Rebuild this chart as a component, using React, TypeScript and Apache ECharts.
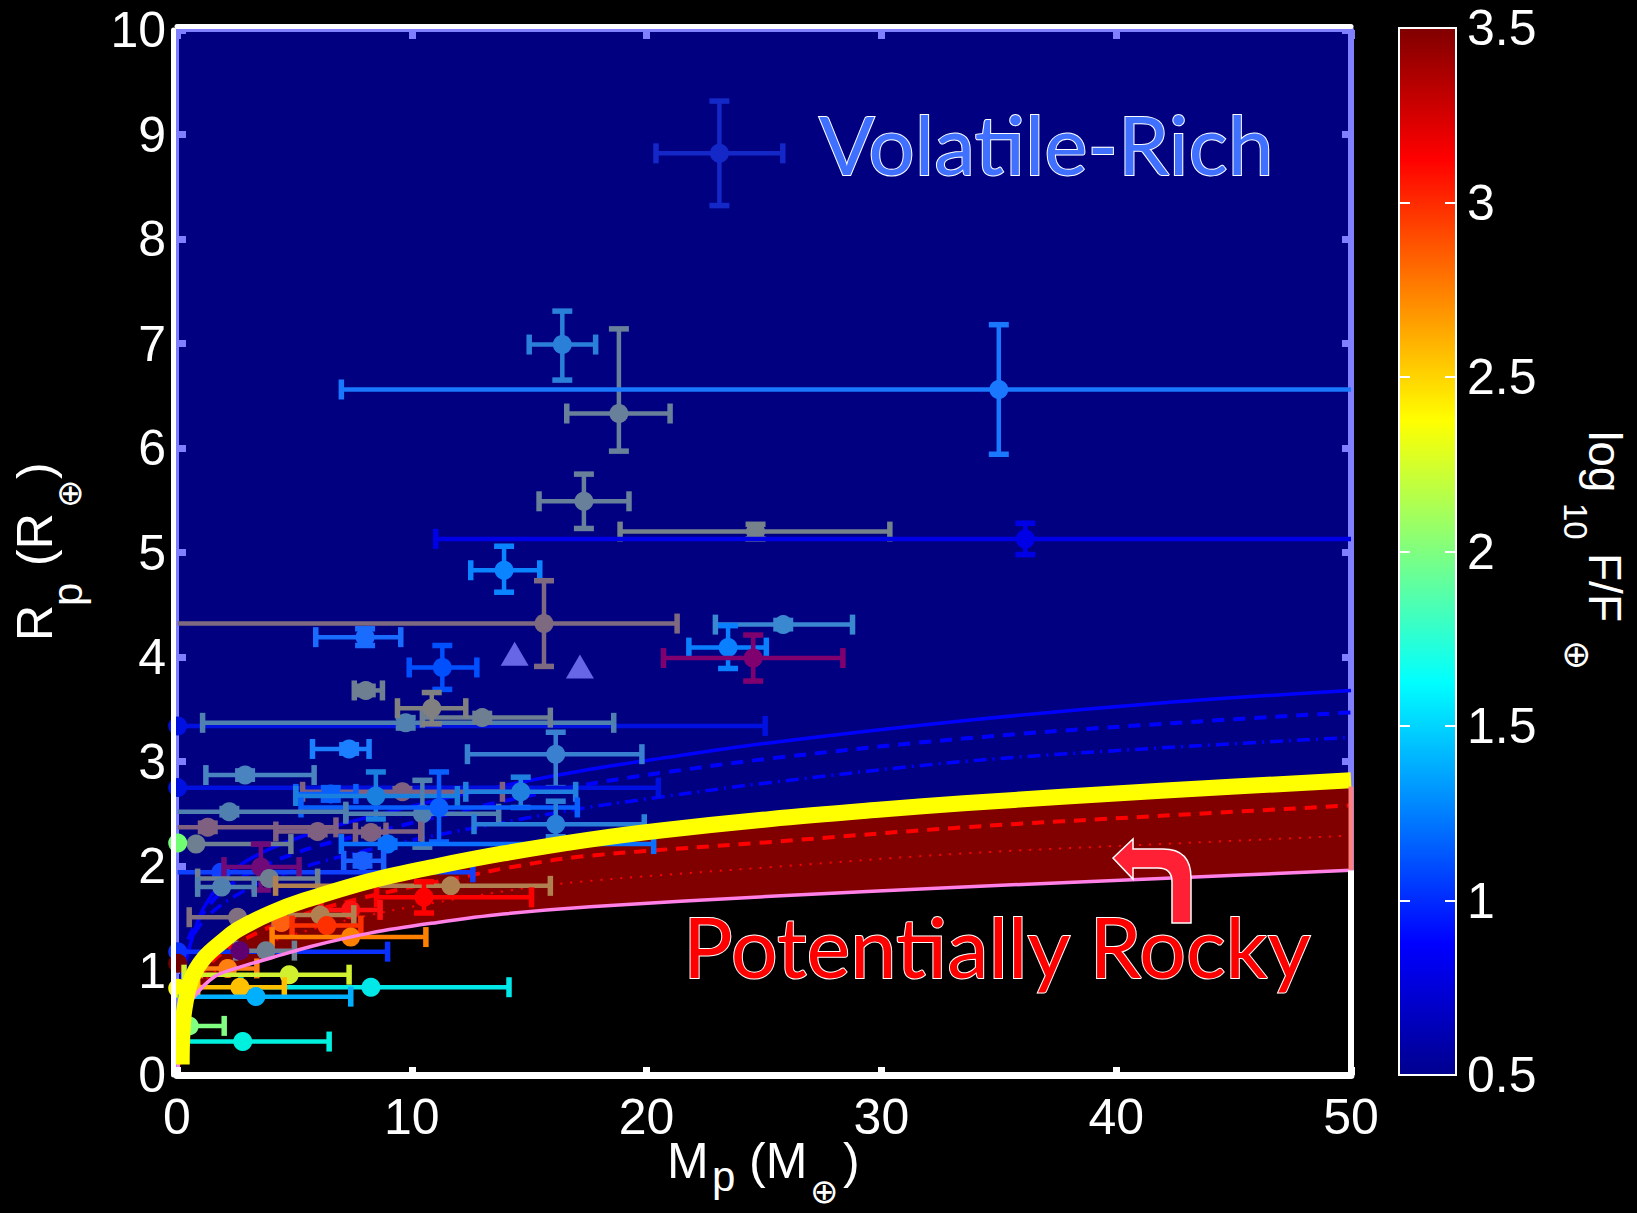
import React, { useEffect, useRef } from "react";
import * as echarts from "echarts";

// ---------- axes ----------
const massMin = 0;
const massMax = 50;
const massStep = 10;
const radiusMin = 0;
const radiusMax = 10;
const radiusStep = 1;
const fluxMin = 0.5;
const fluxMax = 3.5;
const fluxStep = 0.5;

// ---------- planets: [M, M_lo, M_hi, R, R_lo, R_hi] ----------
const planets: number[][] = [
  [23.1, 20.4, 25.8, 8.82, 8.32, 9.32],
  [16.41, 15.0, 17.83, 6.99, 6.65, 7.31],
  [18.82, 16.6, 21.0, 6.33, 5.97, 7.14],
  [35.0, 7.0, 50.0, 6.56, 5.94, 7.18],
  [17.33, 15.42, 19.25, 5.49, 5.23, 5.75],
  [24.64, 18.87, 30.36, 5.2, 5.13, 5.27],
  [36.13, 11.02, 50.0, 5.13, 4.98, 5.28],
  [13.93, 12.51, 15.45, 4.83, 4.62, 5.06],
  [15.63, 0.03, 21.3, 4.32, 3.91, 4.73],
  [8.01, 5.91, 9.53, 4.19, 4.11, 4.27],
  [11.3, 9.89, 12.77, 3.9, 3.69, 4.11],
  [25.82, 22.93, 28.77, 4.31, 4.27, 4.35],
  [23.47, 21.8, 25.1, 4.09, 3.89, 4.3],
  [24.54, 20.72, 28.36, 3.99, 3.77, 4.21],
  [8.04, 7.55, 8.75, 3.68, 3.64, 3.72],
  [0.03, 0.03, 25.05, 3.34, 3.34, 3.34],
  [9.74, 1.09, 18.6, 3.37, 3.32, 3.42],
  [13.0, 10.45, 15.9, 3.42, 3.38, 3.46],
  [10.85, 9.39, 12.3, 3.51, 3.36, 3.66],
  [7.33, 5.77, 8.18, 3.12, 3.08, 3.16],
  [16.13, 12.37, 19.8, 3.07, 2.75, 3.28],
  [2.9, 1.23, 5.84, 2.87, 2.83, 2.91],
  [0.03, 0.03, 20.5, 2.75, 2.75, 2.75],
  [9.6, 5.35, 13.86, 2.71, 2.68, 2.74],
  [6.55, 5.06, 7.62, 2.69, 2.63, 2.75],
  [8.47, 5.06, 11.94, 2.67, 2.45, 2.9],
  [14.64, 12.3, 16.98, 2.71, 2.56, 2.85],
  [10.45, 7.19, 13.7, 2.5, 2.18, 2.82],
  [11.16, 5.28, 17.05, 2.56, 2.23, 2.9],
  [2.23, 0.03, 7.19, 2.52, 2.49, 2.55],
  [16.13, 12.65, 19.9, 2.4, 2.28, 2.62],
  [1.31, 0.03, 6.77, 2.37, 2.33, 2.41],
  [5.99, 4.21, 10.38, 2.33, 2.3, 2.36],
  [8.26, 7.6, 8.9, 2.32, 2.29, 2.35],
  [8.97, 7.0, 20.3, 2.21, 2.18, 2.24],
  [0.81, 0.03, 4.85, 2.21, 2.21, 2.21],
  [0.03, 0.03, 0.03, 2.22, 2.22, 2.22],
  [7.9, 7.1, 8.8, 2.05, 2.0, 2.1],
  [1.87, 0.03, 12.6, 1.94, 1.94, 1.94],
  [3.57, 2.0, 5.2, 1.99, 1.77, 2.21],
  [3.93, 0.88, 5.99, 1.88, 1.88, 1.88],
  [1.9, 0.88, 3.29, 1.8, 1.8, 1.8],
  [11.66, 4.2, 15.9, 1.81, 1.81, 1.81],
  [10.52, 8.5, 15.1, 1.7, 1.55, 1.85],
  [7.4, 6.13, 8.65, 1.58, 1.58, 1.58],
  [6.1, 4.85, 7.53, 1.53, 1.53, 1.53],
  [2.58, 0.52, 4.13, 1.51, 1.51, 1.51],
  [4.45, 4.45, 4.45, 1.46, 1.46, 1.46],
  [6.38, 4.9, 7.83, 1.43, 1.43, 1.43],
  [7.4, 4.05, 10.6, 1.32, 1.32, 1.32],
  [0.03, 0.03, 8.97, 1.18, 1.18, 1.18],
  [3.79, 2.5, 5.0, 1.19, 1.19, 1.19],
  [2.68, 2.68, 2.68, 1.19, 1.19, 1.19],
  [0.03, 0.03, 0.03, 1.07, 1.07, 1.07],
  [2.16, 1.0, 3.4, 1.02, 1.02, 1.02],
  [4.78, 0.3, 7.33, 0.96, 0.96, 0.96],
  [8.26, 2.72, 14.14, 0.84, 0.84, 0.84],
  [2.68, 0.88, 4.57, 0.84, 0.84, 0.84],
  [0.03, 0.03, 0.03, 0.83, 0.83, 0.83],
  [3.36, 0.03, 7.4, 0.75, 0.75, 0.75],
  [0.52, 0.03, 2.01, 0.47, 0.47, 0.47],
  [2.8, 0.03, 6.48, 0.32, 0.32, 0.32],
];

// colour of each planet (incident flux)
const planetColors: string[] = [
  "#1428c8", "#2a80d8", "#68809a", "#1a78ff", "#68809a", "#75828c", "#0000e6", "#0a84ff",
  "#7e6a80", "#1a6cff", "#0050ff", "#3a88d0", "#0a80ff", "#800070", "#6e7f92", "#0010e0",
  "#5080b0", "#6e7f92", "#808080", "#1a80ff", "#3a80d0", "#4a84c0", "#0010e0", "#80607f",
  "#0a60ff", "#1a80e0", "#2080e0", "#5080b0", "#0a60ff", "#5080b0", "#2a80d8", "#806080",
  "#806080", "#806080", "#0a70ff", "#6e7f92", "#70ff70", "#1a60ff", "#1040ff", "#700a78",
  "#6e7f92", "#5080b0", "#b08050", "#ff0000", "#ff1010", "#b08050", "#806f80", "#ff6010",
  "#ff3000", "#ff8000", "#0a30ff", "#6e7f92", "#600070", "#700000", "#ff8010", "#d0f030",
  "#00e8e8", "#ffc000", "#ffff00", "#00b0ff", "#80ff80", "#00f0e0",
];

const lavenderTriangles = [
  [14.38, 4.03],
  [17.16, 3.91],
];
const solarSystemTriangles = [
  [0.1, 0.52],
  [0.06, 0.37],
];

// ---------- composition curves [M, R] ----------
const curveSilicate = [
  [0.2, 0.1], [0.22, 0.35], [0.31, 0.62], [0.6, 0.91], [1.16, 1.12], [2.0, 1.29], [2.58, 1.39],
  [4.0, 1.55], [5.42, 1.67], [8.26, 1.86], [11.1, 2.0], [13.9, 2.12], [17.5, 2.25], [20.6, 2.34],
  [25.3, 2.45], [30, 2.54], [33.5, 2.6], [41.9, 2.72], [50, 2.82],
];
const curveIron = [
  [0.05, 0.07], [0.15, 0.35], [0.31, 0.56], [0.7, 0.74], [1.59, 0.94], [2.5, 1.02], [4, 1.12],
  [5.7, 1.23], [8.26, 1.36], [11.1, 1.46], [13.9, 1.54], [17.6, 1.61], [25.3, 1.71], [33.5, 1.8],
  [41.9, 1.88], [50, 1.96],
];
const curveRedDashed = [
  [0.3, 0.55], [1, 0.95], [2, 1.18], [4, 1.42], [6, 1.58], [8, 1.7], [10, 1.8], [12.5, 1.91],
  [14, 1.98], [17.2, 2.09], [25.3, 2.23], [33.5, 2.37], [41.9, 2.48], [50, 2.58],
];
const curveRedDotted = [
  [0.3, 0.5], [1, 0.85], [2, 1.05], [4, 1.27], [6, 1.41], [8, 1.52], [10, 1.61], [14, 1.76],
  [17.2, 1.85], [25.3, 1.99], [33.5, 2.12], [41.9, 2.21], [50, 2.29],
];
const curveBlueSolid = [
  [0.15, 0.85], [0.3, 1.0], [0.45, 1.16], [1.16, 1.61], [2.58, 1.99], [5.28, 2.28], [9.25, 2.53],
  [13.5, 2.75], [17.2, 2.91], [20.6, 3.03], [25.3, 3.18], [33.5, 3.39], [41.9, 3.56], [50, 3.68],
];
const curveBlueDashed = [
  [0.2, 0.9], [0.3, 1.13], [0.74, 1.42], [2.16, 1.8], [5.0, 2.12], [9.25, 2.37], [13.5, 2.6],
  [17.2, 2.77], [20.6, 2.89], [25.3, 3.03], [33.5, 3.22], [41.9, 3.36], [50, 3.47],
];
const curveBlueDashDot = [
  [0.2, 0.85], [0.74, 1.35], [2.16, 1.67], [5.0, 1.96], [9.25, 2.21], [13.5, 2.4], [17.2, 2.55],
  [20.6, 2.66], [25.3, 2.8], [33.5, 3.0], [41.9, 3.13], [50, 3.23],
];

const ARROW_PATH =
  "M0 0 L20 -19 L20 -9 L50 -9 Q78 -9 78 20 L78 65 L59 65 L59 24 Q59 10 45 10 L20 10 L20 21 Z";

const SANS = "'Liberation Sans', Arial, Helvetica, sans-serif";
const LAVENDER = "#8080ff";

let arrowRegistered = false;

export default function App() {
  const ref = useRef<HTMLDivElement>(null);

  useEffect(() => {
    if (!ref.current) return;
    if (!arrowRegistered) {
      echarts.graphic.registerShape("rockyArrow", echarts.graphic.extendPath(ARROW_PATH, {}) as any);
      arrowRegistered = true;
    }
    const chart = echarts.init(ref.current, null, { renderer: "svg" });

    const lastIron = curveIron[curveIron.length - 1];
    const lastSil = curveSilicate[curveSilicate.length - 1];

    const curve = (data: number[][], color: string, width: number, type: any, z: number) => ({
      type: "line",
      xAxisIndex: 0,
      yAxisIndex: 0,
      data,
      showSymbol: false,
      smooth: 0.35,
      lineStyle: { color, width, type, cap: "butt", join: "round" },
      z,
      silent: true,
    });

    const text = (t: string, x: number, y: number, size: number, extra: any = {}) => ({
      type: "text",
      x,
      y,
      rotation: extra.rotation || 0,
      z: 100,
      style: {
        text: t,
        fill: extra.fill || "#fff",
        fontSize: size,
        fontFamily: extra.family || SANS,
        align: "left",
        verticalAlign: "middle",
        textAlign: "left",
        textVerticalAlign: "middle",
        stroke: extra.stroke,
        lineWidth: extra.lineWidth,
      },
    });

    const plainAxis = {
      type: "value",
      axisLabel: { show: false },
      splitLine: { show: false },
    };

    const option: any = {
      animation: false,
      backgroundColor: "#000",
      grid: [
        {
          left: 177,
          top: 30,
          width: 1174,
          height: 1045,
          show: true,
          backgroundColor: "#000080",
          borderColor: LAVENDER,
          borderWidth: 4,
        },
        {
          left: 1399,
          top: 28,
          width: 57,
          height: 1047,
          show: true,
          backgroundColor: "transparent",
          borderColor: "#fff",
          borderWidth: 2,
          z: 5,
        },
      ],
      xAxis: [
        {
          gridIndex: 0,
          type: "value",
          position: "bottom",
          min: massMin,
          max: massMax,
          interval: massStep,
          z: 10,
          axisLine: { show: true, onZero: false, lineStyle: { color: "#fff", width: 7 } },
          axisTick: { show: true, inside: true, length: 8, lineStyle: { color: "#fff", width: 7 } },
          axisLabel: { color: "#fff", fontSize: 50, fontFamily: SANS, margin: 17 },
          splitLine: { show: false },
        },
        {
          ...plainAxis,
          gridIndex: 0,
          position: "top",
          offset: 4,
          min: massMin,
          max: massMax,
          interval: massStep,
          z: 10,
          axisLine: { show: true, onZero: false, lineStyle: { color: "#fff", width: 5 } },
          axisTick: { show: false },
        },
        {
          ...plainAxis,
          gridIndex: 0,
          position: "top",
          min: massMin,
          max: massMax,
          interval: massStep,
          axisLine: { show: false, onZero: false },
          axisTick: { show: true, inside: true, length: 9, lineStyle: { color: LAVENDER, width: 7 } },
        },
        {
          gridIndex: 1,
          type: "value",
          min: 0,
          max: 1,
          show: false,
        },
      ],
      yAxis: [
        {
          gridIndex: 0,
          type: "value",
          position: "left",
          offset: 4,
          min: radiusMin,
          max: radiusMax,
          interval: radiusStep,
          z: 10,
          axisLine: { show: true, onZero: false, lineStyle: { color: "#fff", width: 5 } },
          axisTick: { show: false },
          axisLabel: { color: "#fff", fontSize: 50, fontFamily: SANS, margin: 7 },
          splitLine: { show: false },
        },
        {
          ...plainAxis,
          gridIndex: 0,
          position: "right",
          min: radiusMin,
          max: radiusMax,
          interval: radiusStep,
          axisLine: { show: true, onZero: false, lineStyle: { color: LAVENDER, width: 6 } },
          axisTick: { show: true, inside: true, length: 9, lineStyle: { color: LAVENDER, width: 7 } },
        },
        {
          ...plainAxis,
          gridIndex: 0,
          position: "left",
          min: radiusMin,
          max: radiusMax,
          interval: radiusStep,
          axisLine: { show: false, onZero: false },
          axisTick: { show: true, inside: true, length: 9, lineStyle: { color: LAVENDER, width: 7 } },
        },
        {
          gridIndex: 1,
          type: "value",
          position: "right",
          min: fluxMin,
          max: fluxMax,
          interval: fluxStep,
          z: 6,
          axisLine: { show: false, onZero: false },
          axisTick: { show: true, inside: true, length: 11, lineStyle: { color: "#fff", width: 2 } },
          axisLabel: {
            color: "#fff",
            fontSize: 50,
            fontFamily: SANS,
            margin: 11,
            showMinLabel: true,
            showMaxLabel: true,
          },
          splitLine: { show: false },
        },
        {
          ...plainAxis,
          gridIndex: 1,
          position: "left",
          min: fluxMin,
          max: fluxMax,
          interval: fluxStep,
          z: 6,
          axisLine: { show: false, onZero: false },
          axisTick: { show: true, inside: true, length: 11, lineStyle: { color: "#fff", width: 2 } },
        },
      ],
      series: [
        // colour bar fill
        {
          type: "custom",
          xAxisIndex: 3,
          yAxisIndex: 3,
          data: [[0, fluxMin, 1, fluxMax]],
          silent: true,
          z: 1,
          renderItem: (_p: any, api: any) => {
            const a = api.coord([api.value(0), api.value(3)]);
            const b = api.coord([api.value(2), api.value(1)]);
            return {
              type: "rect",
              shape: { x: a[0], y: a[1], width: b[0] - a[0], height: b[1] - a[1] },
              style: {
                fill: new echarts.graphic.LinearGradient(0, 1, 0, 0, [
                  { offset: 0, color: "#00008f" },
                  { offset: 0.125, color: "#0000ff" },
                  { offset: 0.375, color: "#00ffff" },
                  { offset: 0.625, color: "#ffff00" },
                  { offset: 0.875, color: "#ff0000" },
                  { offset: 1, color: "#800000" },
                ]),
              },
            };
          },
        },
        // regions: black below iron curve, dark red between iron and silicate
        {
          type: "custom",
          xAxisIndex: 0,
          yAxisIndex: 0,
          data: [[massMin, radiusMin, massMax]],
          silent: true,
          clip: false,
          z: 1,
          renderItem: (_p: any, api: any) => {
            const iron = curveIron.map((p) => api.coord(p));
            const sil = curveSilicate.map((p) => api.coord(p));
            const floorR = api.coord([api.value(2), api.value(1)]);
            const floorL = api.coord([api.value(0), api.value(1)]);
            return {
              type: "group",
              children: [
                {
                  type: "polygon",
                  shape: { points: [...iron, floorR, floorL] },
                  style: { fill: "#000" },
                },
                {
                  type: "polygon",
                  shape: { points: [...sil, ...iron.slice().reverse()] },
                  style: { fill: "#800000" },
                },
              ],
            };
          },
        },
        curve(curveBlueSolid, "#0000ff", 3.5, "solid", 2),
        curve(curveBlueDashed, "#0000ff", 4, [12, 9], 2),
        curve(curveBlueDashDot, "#0000ff", 3.5, [13, 6, 2, 6], 2),
        curve(curveRedDashed, "#ff0000", 4, [12, 9], 2),
        curve(curveRedDotted, "#ff0000", 2, [2, 8], 2),
        // planets with error bars
        {
          type: "custom",
          xAxisIndex: 0,
          yAxisIndex: 0,
          data: planets,
          encode: { x: 0, y: 3 },
          clip: false,
          silent: true,
          z: 3,
          renderItem: (params: any, api: any) => {
            const m = api.value(0);
            const mlo = api.value(1);
            const mhi = api.value(2);
            const r = api.value(3);
            const rlo = api.value(4);
            const rhi = api.value(5);
            const color = planetColors[params.dataIndex];
            const c = api.coord([m, r]);
            const children: any[] = [];
            const bar = { stroke: color, lineWidth: 4.5 };
            const capStyle = { stroke: color, lineWidth: 5.5 };
            const cap = 10;
            if (mhi > mlo) {
              const a = api.coord([mlo, r]);
              const b = api.coord([mhi, r]);
              children.push({ type: "line", shape: { x1: a[0], y1: a[1], x2: b[0], y2: b[1] }, style: bar });
              if (mlo > 0.1)
                children.push({ type: "line", shape: { x1: a[0], y1: a[1] - cap, x2: a[0], y2: a[1] + cap }, style: capStyle });
              if (mhi < massMax)
                children.push({ type: "line", shape: { x1: b[0], y1: b[1] - cap, x2: b[0], y2: b[1] + cap }, style: capStyle });
            }
            if (rhi > rlo) {
              const a = api.coord([m, rlo]);
              const b = api.coord([m, rhi]);
              children.push({ type: "line", shape: { x1: a[0], y1: a[1], x2: b[0], y2: b[1] }, style: bar });
              children.push({ type: "line", shape: { x1: a[0] - cap, y1: a[1], x2: a[0] + cap, y2: a[1] }, style: capStyle });
              children.push({ type: "line", shape: { x1: b[0] - cap, y1: b[1], x2: b[0] + cap, y2: b[1] }, style: capStyle });
            }
            children.push({ type: "circle", shape: { cx: c[0], cy: c[1], r: 9.5 }, style: { fill: color } });
            return { type: "group", children };
          },
        },
        {
          type: "scatter",
          xAxisIndex: 0,
          yAxisIndex: 0,
          data: lavenderTriangles,
          symbol: "triangle",
          symbolSize: [28, 24],
          itemStyle: { color: LAVENDER },
          silent: true,
          z: 4,
        },
        {
          type: "scatter",
          xAxisIndex: 0,
          yAxisIndex: 0,
          data: solarSystemTriangles,
          symbol: "triangle",
          symbolSize: [14, 13],
          itemStyle: { color: "#fff" },
          silent: true,
          z: 4,
        },
        curve(curveIron, "#ff80e6", 3.5, "solid", 5),
        curve(curveSilicate, "#ffff00", 16, "solid", 6),
        // right frame: white below the iron curve, salmon across the rocky band
        {
          type: "line",
          xAxisIndex: 0,
          yAxisIndex: 0,
          data: [
            [lastIron[0], radiusMin],
            [lastIron[0], lastIron[1]],
          ],
          showSymbol: false,
          lineStyle: { color: "#fff", width: 6 },
          silent: true,
          z: 7,
        },
        {
          type: "line",
          xAxisIndex: 0,
          yAxisIndex: 0,
          data: [
            [lastIron[0], lastIron[1]],
            [lastSil[0], lastSil[1] - 0.06],
          ],
          showSymbol: false,
          lineStyle: { color: "#ff8080", width: 5 },
          silent: true,
          z: 7,
        },
      ],
      graphic: [
        // x axis title
        text("M", 667, 1161, 50),
        text("p", 712, 1176, 42),
        text("(M", 749, 1161, 50),
        text("\u2295", 810, 1191, 34, { family: "'DejaVu Sans', sans-serif" }),
        text(")", 843, 1161, 50),
        // y axis title
        text("R", 35, 641, 50, { rotation: Math.PI / 2 }),
        text("p", 67, 606, 42, { rotation: Math.PI / 2 }),
        text("(R", 35, 566, 50, { rotation: Math.PI / 2 }),
        text("\u2295", 69, 508, 34, { rotation: Math.PI / 2, family: "'DejaVu Sans', sans-serif" }),
        text(")", 35, 479, 50, { rotation: Math.PI / 2 }),
        // colour bar title
        text("log", 1605, 431, 46, { rotation: -Math.PI / 2 }),
        text("10", 1575, 503, 33, { rotation: -Math.PI / 2 }),
        text("F/F", 1605, 553, 46, { rotation: -Math.PI / 2 }),
        text("\u2295", 1577, 640, 36, { rotation: -Math.PI / 2, family: "'DejaVu Sans', sans-serif" }),
        // annotations
        text("Volatile-Rich", 819, 143, 82, {
          fill: "#4070ff",
          family: "Lato, 'Open Sans', sans-serif",
          stroke: "#fff",
          lineWidth: 2,
        }),
        text("Potentially Rocky", 683, 946, 83, {
          fill: "#ff0000",
          family: "Lato, 'Open Sans', sans-serif",
          stroke: "#fff",
          lineWidth: 2,
        }),
        {
          type: "rockyArrow",
          x: 1113,
          y: 858,
          z: 100,
          style: { fill: "#ff2035", stroke: "#fff", lineWidth: 1.5 },
        },
      ],
    };

    chart.setOption(option);
    return () => chart.dispose();
  }, []);

  return (
    <div
      ref={ref}
      style={{ position: "absolute", left: 0, top: 0, width: 1637, height: 1213, background: "#000" }}
    />
  );
}
